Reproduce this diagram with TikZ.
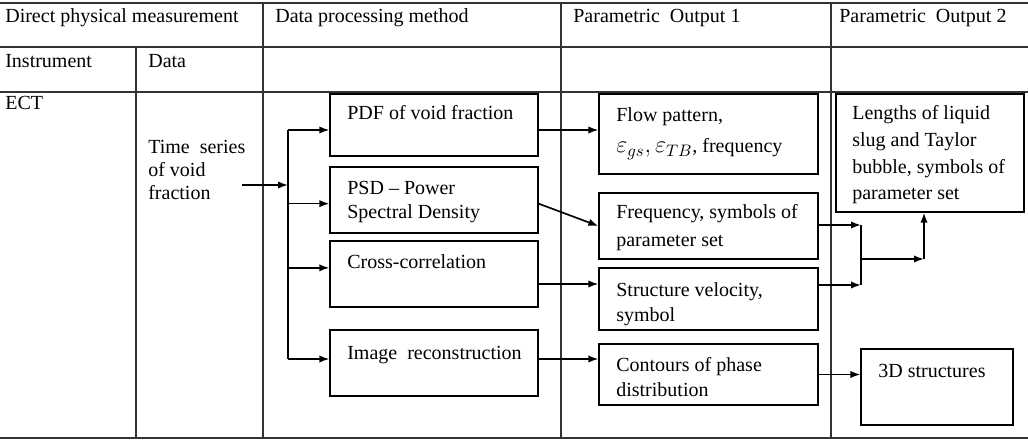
\documentclass[tikz,border=0pt]{standalone}
\usepackage{fontspec}
\setmainfont{Liberation Serif}
\usetikzlibrary{fit,arrows.meta}
\tikzset{
  grid/.style={draw=black!80,line width=0.9pt},
  box/.style={draw,line width=0.75pt,inner sep=0pt},
  lbl/.style={anchor=base west,inner sep=0pt,align=left,font=\fontsize{12}{15}\selectfont},
  arr/.style={-{Latex[length=6pt,width=4.4pt]},line width=1pt},
}
\begin{document}
\begin{tikzpicture}[x=0.6pt,y=-0.6pt]
  \useasboundingbox (0,0) rectangle (1028,442);
  % table rules
  \draw[grid] (0,3)--(1028,3) (0,47)--(1028,47) (0,92)--(1028,92) (0,438)--(1028,438);
  \draw[grid] (136,47)--(136,438) (263,3)--(263,438) (561,3)--(561,438) (831,3)--(831,438);
  % headers
  \node[lbl] (hdirect) at (5,23) {Direct physical measurement};
  \node[lbl] (hmethod) at (275,23) {Data processing method};
  \node[lbl] (hout1) at (573,23) {Parametric\ \ Output 1};
  \node[lbl] (hout2) at (839,23) {Parametric\ \ Output 2};
  \node[lbl] (hinst) at (5,68) {Instrument};
  \node[lbl] (hdata) at (148,68) {Data};
  \node[lbl] (ect) at (5,110) {ECT};
  % multi-line texts are placed by their last baseline
  \node[lbl,font=\fontsize{12}{14}\selectfont] (tseries) at (148,200) {Time\ \ series\\of void\\fraction};
  % processing boxes
  \node[box,fit={(330,94) (538,156)}] (pdf) {};
  \node[box,fit={(330,167) (538,233)}] (psd) {};
  \node[box,fit={(330,241) (538,307)}] (xcor) {};
  \node[box,fit={(330,330) (538,396)}] (img) {};
  \node[lbl] (pdft) at (347,120) {PDF of void fraction};
  \node[lbl] (psdt) at (347,219) {PSD -- Power\\Spectral Density};
  \node[lbl] (xcort) at (347,268) {Cross-correlation};
  \node[lbl] (imgt) at (347,359) {Image\ \ reconstruction};
  % output 1 boxes
  \node[box,fit={(599,94) (818,174)}] (flow) {};
  \node[box,fit={(599,193) (818,259)}] (freq) {};
  \node[box,fit={(599,268) (818,330)}] (struc) {};
  \node[box,fit={(599,344) (818,405)}] (cont) {};
  \node[lbl] (flowt) at (616,153) {Flow pattern,\\[4pt]{\fontsize{14.5}{15}\selectfont$\varepsilon_{gs},\varepsilon_{TB}$}, frequency};
  \node[lbl,font=\fontsize{12}{16.4}\selectfont] (freqt) at (616,246) {Frequency, symbols of\\parameter set};
  \node[lbl] (struct) at (616,321) {Structure velocity,\\symbol};
  \node[lbl] (contt) at (616,396) {Contours of phase\\distribution};
  % output 2 boxes
  \node[box,fit={(836,94) (1024,212)}] (len) {};
  \node[box,fit={(861,349) (1013,425)}] (d3) {};
  \node[lbl,font=\fontsize{12}{16}\selectfont] (lent) at (852,200) {Lengths of liquid\\slug and Taylor\\bubble, symbols of\\parameter set};
  \node[lbl] (d3t) at (878,377) {3D structures};
  % connectors
  \coordinate (src) at (242,185);
  \coordinate (split) at (288,185);
  \draw[arr] (src) -- (split);
  \draw[line width=1pt] ([yshift=-3pt]pdf.west -| split) -- ([yshift=2.4pt]img.west -| split);
  \draw[arr] ([yshift=-3pt]pdf.west -| split) -- ([yshift=-3pt]pdf.west);
  \draw[arr] ([yshift=-2.2pt]psd.west -| split) -- ([yshift=-2.2pt]psd.west);
  \draw[arr] ([yshift=3.7pt]xcor.west -| split) -- ([yshift=3.7pt]xcor.west);
  \draw[arr] ([yshift=2.4pt]img.west -| split) -- ([yshift=2.4pt]img.west);
  \draw[arr] ([yshift=-3pt]pdf.east) -- ([yshift=-3pt]pdf.east -| flow.west);
  \draw[arr] ([yshift=-2.2pt]psd.east) -- (freq.west);
  \draw[arr] ([yshift=-6pt]xcor.east) -- ([yshift=-6pt]xcor.east -| struc.west);
  \draw[arr] ([yshift=2.4pt]img.east) -- ([yshift=2.4pt]img.east -| cont.west);
  \draw[arr] (cont.east) -- (cont.east -| d3.west);
  \coordinate (mtop) at (861,225);
  \coordinate (mbot) at (861,285);
  \coordinate (jn) at (861,259);
  \coordinate (kn) at (924,259);
  \draw[arr] (freq.east |- mtop) -- (mtop);
  \draw[arr] (struc.east |- mbot) -- (mbot);
  \draw[line width=1pt] (mtop) -- (mbot);
  \draw[arr] (jn) -- (kn);
  \draw[arr] (kn) -- (kn |- len.south);
\end{tikzpicture}
\end{document}
